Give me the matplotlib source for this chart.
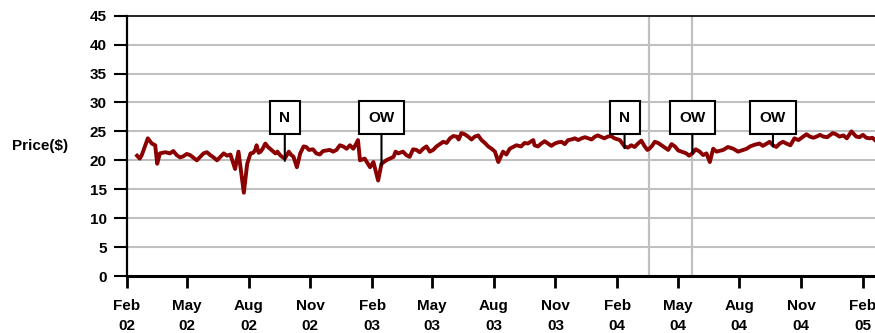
import matplotlib
matplotlib.use("Agg")
import matplotlib.pyplot as plt
import pandas as pd

plt.rcParams["font.family"] = ["Liberation Sans", "DejaVu Sans"]
plt.rcParams["font.weight"] = "bold"

# price series (main turning points)
dates = [
    "2002-02-16", "2002-02-23", "2002-03-04", "2002-03-10", "2002-03-15", "2002-03-18",
    "2002-03-22", "2002-03-30", "2002-04-06", "2002-04-16", "2002-04-26", "2002-05-06",
    "2002-05-16", "2002-05-26", "2002-06-05", "2002-06-15", "2002-06-25", "2002-07-05",
    "2002-07-12", "2002-07-17", "2002-07-25", "2002-07-30", "2002-08-04", "2002-08-11",
    "2002-08-13", "2002-08-19", "2002-08-26", "2002-09-02", "2002-09-10", "2002-09-17",
    "2002-09-24", "2002-09-30", "2002-10-07", "2002-10-12", "2002-10-17", "2002-10-22",
    "2002-10-30", "2002-11-10", "2002-11-20", "2002-11-30", "2002-12-10", "2002-12-20",
    "2002-12-30", "2003-01-04", "2003-01-11", "2003-01-14", "2003-01-21", "2003-01-29",
    "2003-02-03", "2003-02-10", "2003-02-15", "2003-02-22", "2003-03-05", "2003-03-12",
    "2003-03-19", "2003-03-29", "2003-04-08", "2003-04-18", "2003-04-28", "2003-05-08",
    "2003-05-18", "2003-05-28", "2003-06-07", "2003-06-14", "2003-06-24", "2003-07-04",
    "2003-07-14", "2003-07-24", "2003-08-03", "2003-08-08", "2003-08-15", "2003-08-25",
    "2003-09-04", "2003-09-11", "2003-09-21", "2003-09-29", "2003-10-01", "2003-10-11",
    "2003-10-21", "2003-10-31", "2003-11-10", "2003-11-20", "2003-11-30", "2003-12-10",
    "2003-12-20", "2003-12-30", "2004-01-09", "2004-01-18", "2004-01-28", "2004-02-05",
    "2004-02-12", "2004-02-22", "2004-03-03", "2004-03-13", "2004-03-20", "2004-03-28",
    "2004-04-07", "2004-04-17", "2004-04-27", "2004-05-07", "2004-05-14", "2004-05-23",
    "2004-06-03", "2004-06-13", "2004-06-23", "2004-07-08", "2004-07-23", "2004-08-07",
    "2004-08-17", "2004-08-31", "2004-09-11", "2004-09-20", "2004-09-30", "2004-10-10",
    "2004-10-22", "2004-11-04", "2004-11-14", "2004-11-24", "2004-12-04", "2004-12-18",
    "2004-12-28", "2005-01-08", "2005-01-15", "2005-01-22", "2005-02-01", "2005-02-11",
    "2005-02-19",
]
prices = [
    20.8, 20.9, 23.8, 22.9, 22.6, 19.4,
    21.2, 21.4, 21.2, 20.9, 20.7, 20.9,
    20.0, 21.2, 20.9, 20.0, 21.2, 21.0,
    18.5, 21.5, 14.4, 19.4, 21.2, 21.8,
    22.6, 21.5, 22.9, 22.0, 21.2, 20.9,
    20.3, 21.5, 20.6, 18.8, 21.2, 22.4,
    21.8, 21.2, 21.6, 21.8, 21.8, 22.4,
    22.6, 22.0, 23.5, 20.0, 20.3, 18.8,
    19.7, 16.5, 19.4, 20.0, 20.6, 21.2,
    21.5, 20.6, 21.8, 22.0, 21.5, 22.4,
    23.2, 23.8, 24.1, 24.7, 24.1, 24.1,
    23.5, 22.4, 21.5, 19.7, 21.5, 22.0,
    22.6, 22.4, 22.9, 23.5, 22.6, 22.9,
    22.9, 22.9, 23.2, 23.5, 23.8, 23.8,
    23.8, 24.1, 24.0, 24.1, 23.8, 23.5,
    22.4, 22.6, 22.9, 22.4, 22.0, 23.2,
    22.6, 21.8, 22.4, 21.5, 21.2, 21.2,
    21.5, 21.2, 22.0, 21.8, 22.0, 21.8,
    22.4, 22.9, 22.9, 22.6, 22.9, 22.9,
    23.8, 24.1, 24.1, 24.1, 24.1, 24.7,
    24.1, 23.8, 25.0, 24.1, 24.4, 23.8,
    23.5,
]

# smaller wiggles between the turning points
extra_dates = [
    "2002-02-20", "2002-04-11", "2002-04-21", "2002-05-01", "2002-05-21", "2002-05-31",
    "2002-06-10", "2002-06-20", "2002-06-30", "2002-08-08", "2002-08-16", "2002-08-22",
    "2002-08-30", "2002-09-06", "2002-09-13", "2002-09-20", "2002-10-03", "2002-10-26",
    "2002-11-05", "2002-11-15", "2002-11-25", "2002-12-05", "2002-12-15", "2002-12-25",
    "2003-01-08", "2003-03-08", "2003-03-24", "2003-04-03", "2003-04-13", "2003-04-23",
    "2003-05-03", "2003-05-13", "2003-05-23", "2003-06-02", "2003-06-10", "2003-06-19",
    "2003-06-29", "2003-07-09", "2003-07-19", "2003-07-29", "2003-08-20", "2003-09-16",
    "2003-10-06", "2003-10-16", "2003-10-26", "2003-11-05", "2003-11-15", "2003-11-25",
    "2003-12-05", "2003-12-15", "2003-12-25", "2004-01-03", "2004-01-13", "2004-01-23",
    "2004-02-17", "2004-02-27", "2004-03-08", "2004-03-17", "2004-03-24", "2004-04-02",
    "2004-04-12", "2004-04-22", "2004-05-02", "2004-05-18", "2004-05-28", "2004-06-08",
    "2004-06-18", "2004-06-28", "2004-07-15", "2004-07-30", "2004-08-12", "2004-08-24",
    "2004-09-05", "2004-09-15", "2004-09-25", "2004-10-05", "2004-10-16", "2004-10-28",
    "2004-11-09", "2004-11-19", "2004-11-29", "2004-12-10", "2004-12-23", "2005-01-03",
    "2005-01-27", "2005-02-06", "2005-02-15",
]
extra_prices = [
    20.3, 21.6, 20.5, 21.1, 20.6, 21.4,
    20.5, 20.6, 20.8, 21.3, 21.3, 22.0,
    22.3, 21.6, 21.5, 20.6, 21.0, 22.3,
    21.9, 21.0, 21.7, 21.5, 22.6, 22.0,
    22.8, 21.5, 20.9, 21.9, 21.4, 22.4,
    21.8, 22.8, 23.0, 24.2, 23.6, 24.5,
    23.6, 24.3, 23.0, 22.0, 21.0, 23.0,
    22.4, 23.3, 22.5, 23.1, 22.8, 23.6,
    23.5, 24.0, 23.6, 24.3, 23.8, 24.2,
    22.2, 22.3, 23.4, 21.8, 22.5, 23.0,
    22.2, 22.8, 21.7, 20.8, 21.9, 20.9,
    19.7, 21.5, 22.3, 21.5, 22.0, 22.7,
    22.5, 23.2, 22.3, 23.2, 22.6, 23.5,
    24.5, 23.9, 24.4, 24.0, 24.5, 24.3,
    24.0, 23.9, 23.9,
]

# rating flags: label, date, price where the stem meets the line
flag_labels = ["N", "OW", "N", "OW", "OW"]
flag_dates = ["2002-09-24", "2003-02-15", "2004-02-12", "2004-05-23", "2004-09-20"]
flag_prices = [19.9, 19.1, 22.1, 21.2, 22.4]
flag_box_y = 27.35

vline_dates = ["2004-03-20", "2004-05-23"]

yticks = list(range(0, 50, 5))
xtick_dates = pd.date_range("2002-02-01", "2005-02-01", freq="3MS")
x_start, x_end = "2002-02-01", "2005-02-19"

LINE_RED = "#8b0000"
GRID_GREY = "#c0c0c0"

series = pd.concat([
    pd.Series(prices, index=pd.to_datetime(dates)),
    pd.Series(extra_prices, index=pd.to_datetime(extra_dates)),
]).sort_index()

fig = plt.figure(figsize=(8.75, 3.33), dpi=100)
ax = fig.add_axes([127 / 875, 1 - 276 / 333, 1 - 127 / 875, (276 - 15.7) / 333])

# grid + vertical markers
for y in yticks[1:-1]:
    ax.axhline(y, color=GRID_GREY, lw=1.5, zorder=1)
for d in vline_dates:
    ax.axvline(pd.Timestamp(d), color=GRID_GREY, lw=1.6, zorder=1)

ax.plot(series.index, series.values, color=LINE_RED, lw=2.8, zorder=3)

for lab, d, p in zip(flag_labels, flag_dates, flag_prices):
    ax.annotate(
        lab, xy=(pd.Timestamp(d), p), xytext=(pd.Timestamp(d), flag_box_y),
        ha="center", va="center", fontsize=11, fontweight="bold",
        bbox=dict(boxstyle="square,pad=0.62", fc="white", ec="black", lw=1.5),
        arrowprops=dict(arrowstyle="-", color="black", lw=1.5, shrinkA=0, shrinkB=0),
        zorder=4,
    )

ax.set_ylim(0, 45)
ax.set_xlim(pd.Timestamp(x_start), pd.Timestamp(x_end))
ax.set_yticks(yticks)
ax.set_xticks(xtick_dates)
ax.set_xticklabels([d.strftime("%b\n%y") for d in xtick_dates], linespacing=1.55)

ax.tick_params(axis="y", length=9.4, width=1.5, pad=5, labelsize=11)
ax.tick_params(axis="x", length=8.4, width=2, pad=8, labelsize=11)
for lbl in ax.get_xticklabels() + ax.get_yticklabels():
    lbl.set_fontweight("bold")

ax.spines["right"].set_visible(False)
ax.spines["left"].set_linewidth(1.6)
ax.spines["bottom"].set_linewidth(2.2)
ax.spines["top"].set_linewidth(1.2)

fig.text(40 / 875, 1 - 146 / 333, "Price($)", ha="center", va="center",
         fontsize=11, fontweight="bold")

fig.savefig("out.png", dpi=100)
